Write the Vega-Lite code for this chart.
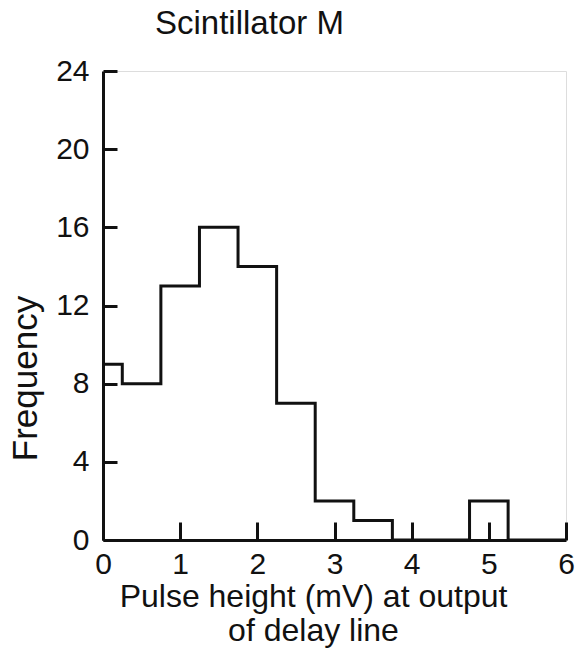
{
  "$schema": "https://vega.github.io/schema/vega-lite/v6.json",
  "width": 463,
  "height": 469,
  "autosize": {"type": "none"},
  "padding": {"left": 103, "top": 71, "right": 12, "bottom": 109},
  "background": "white",
  "title": {
    "text": "Scintillator M",
    "anchor": "start",
    "frame": "group",
    "dx": 52,
    "fontSize": 33,
    "font": "Liberation Sans",
    "fontWeight": "normal",
    "color": "#111",
    "baseline": "alphabetic",
    "offset": -11
  },
  "data": {
    "values": [
      {"pulse": 0, "freq": 9},
      {"pulse": 0.25, "freq": 8},
      {"pulse": 0.75, "freq": 13},
      {"pulse": 1.25, "freq": 16},
      {"pulse": 1.75, "freq": 14},
      {"pulse": 2.25, "freq": 7},
      {"pulse": 2.75, "freq": 2},
      {"pulse": 3.25, "freq": 1},
      {"pulse": 3.75, "freq": 0},
      {"pulse": 4.75, "freq": 2},
      {"pulse": 5.25, "freq": 0},
      {"pulse": 6, "freq": 0}
    ]
  },
  "mark": {
    "type": "line",
    "interpolate": "step-after",
    "strokeWidth": 3,
    "color": "#111",
    "strokeJoin": "miter"
  },
  "encoding": {
    "x": {
      "field": "pulse",
      "type": "quantitative",
      "scale": {"domain": [0, 6], "nice": false, "zero": false},
      "axis": {
        "values": [0, 1, 2, 3, 4, 5, 6],
        "grid": false,
        "tickSize": -18,
        "tickWidth": 3,
        "tickColor": "#111",
        "domainWidth": 3,
        "domainColor": "#111",
        "labelFlush": false,
        "labelOverlap": false,
        "labelFont": "Liberation Sans",
        "labelFontSize": 30,
        "labelColor": "#111",
        "labelPadding": 27,
        "title": ["Pulse height (mV) at output", "of delay line"],
        "titleFont": "Liberation Sans",
        "titleFontSize": 32,
        "titleFontWeight": "normal",
        "titleColor": "#111",
        "titleX": 210,
        "titleY": 66,
        "titleBaseline": "alphabetic",
        "titleAlign": "center",
        "titleLineHeight": 34
      }
    },
    "y": {
      "field": "freq",
      "type": "quantitative",
      "scale": {"domain": [0, 24], "nice": false},
      "axis": {
        "values": [0, 4, 8, 12, 16, 20, 24],
        "grid": false,
        "tickSize": -14,
        "tickWidth": 3,
        "tickColor": "#111",
        "domainWidth": 3,
        "domainColor": "#111",
        "labelFont": "Liberation Sans",
        "labelFontSize": 30,
        "labelColor": "#111",
        "labelPadding": 28,
        "title": "Frequency",
        "titleFont": "Liberation Sans",
        "titleFontSize": 35,
        "titleFontWeight": "normal",
        "titleColor": "#111",
        "titleAngle": -90,
        "titleX": -78,
        "titleY": 307,
        "titleBaseline": "middle",
        "titleAlign": "center"
      }
    }
  }
}
